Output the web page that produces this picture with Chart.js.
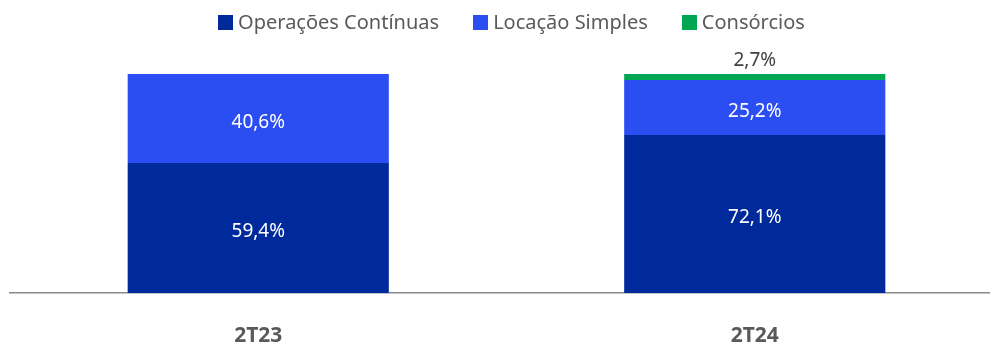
<!DOCTYPE html>
<html>
<head>
<meta charset="utf-8">
<script src="https://cdn.jsdelivr.net/npm/chart.js@4/dist/chart.umd.min.js"></script>
<style>
  html, body { margin: 0; padding: 0; background: #fff; overflow: hidden; }
  #wrap { position: relative; width: 990px; height: 343px; overflow: hidden; }
  #legend { position: absolute; top: 9px; left: 0; width: 1023px; display: flex; justify-content: center;
            font-family: "Noto Sans", sans-serif; font-size: 20px; color: #5a5a5a; white-space: nowrap; }
  .item { display: flex; align-items: center; margin: 0 17px; line-height: 26px; }
  .box { width: 15px; height: 15px; margin-right: 5px; }
  canvas { display: block; }
</style>
</head>
<body>
<div id="wrap">
  <canvas id="c" width="1003" height="343"></canvas>
  <div id="legend"></div>
</div>
<script>
const categories = ["2T23", "2T24"];
const seriesNames = ["Operações Contínuas", "Locação Simples", "Consórcios"];
const operacoesContinuas = [59.4, 72.1];
const locacaoSimples = [40.6, 25.2];
const consorcios = [0, 2.7];
const colors = ["#00299b", "#2b4ef2", "#00a651"];

const fmt = v => v.toFixed(1).replace('.', ',') + '%';

const legendEl = document.getElementById('legend');
seriesNames.forEach((n, i) => {
  const it = document.createElement('div'); it.className = 'item';
  const b = document.createElement('span'); b.className = 'box'; b.style.background = colors[i];
  const t = document.createElement('span'); t.textContent = n;
  it.appendChild(b); it.appendChild(t); legendEl.appendChild(it);
});

const labelPlugin = {
  id: 'labels',
  afterDatasetsDraw(chart) {
    const ctx = chart.ctx;
    ctx.save();
    ctx.textAlign = 'center';
    ctx.textBaseline = 'middle';
    ctx.font = '19px "Noto Sans", sans-serif';
    chart.data.datasets.forEach((ds, di) => {
      const meta = chart.getDatasetMeta(di);
      meta.data.forEach((el, i) => {
        const v = ds.data[i];
        if (!v) return;
        if (v < 5) {
          ctx.fillStyle = '#404040';
          ctx.fillText(fmt(v), el.x, el.y - 13);
        } else {
          ctx.fillStyle = '#ffffff';
          ctx.fillText(fmt(v), el.x, (el.y + el.base) / 2 + 4);
        }
      });
    });
    ctx.restore();
  }
};

new Chart(document.getElementById('c'), {
  type: 'bar',
  data: {
    labels: categories,
    datasets: [
      { label: seriesNames[0], data: operacoesContinuas, backgroundColor: colors[0] },
      { label: seriesNames[1], data: locacaoSimples, backgroundColor: colors[1] },
      { label: seriesNames[2], data: consorcios, backgroundColor: colors[2] }
    ]
  },
  options: {
    responsive: false,
    animation: false,
    layout: { padding: { top: 74, left: 10, right: 0, bottom: 0 } },
    datasets: { bar: { barPercentage: 0.526, categoryPercentage: 1 } },
    plugins: { legend: { display: false }, tooltip: { enabled: false } },
    scales: {
      x: {
        stacked: true,
        grid: { display: false, drawTicks: false },
        border: { display: true, color: '#8a8a8a', width: 1.5 },
        ticks: { color: '#5a5a5a', padding: 30, font: { family: '"Noto Sans", sans-serif', size: 21, weight: 'bold' } },
        afterFit(scale) { scale.height = 50; }
      },
      y: { stacked: true, display: false, min: 0, max: 100 }
    }
  },
  plugins: [labelPlugin]
});
</script>
</body>
</html>
